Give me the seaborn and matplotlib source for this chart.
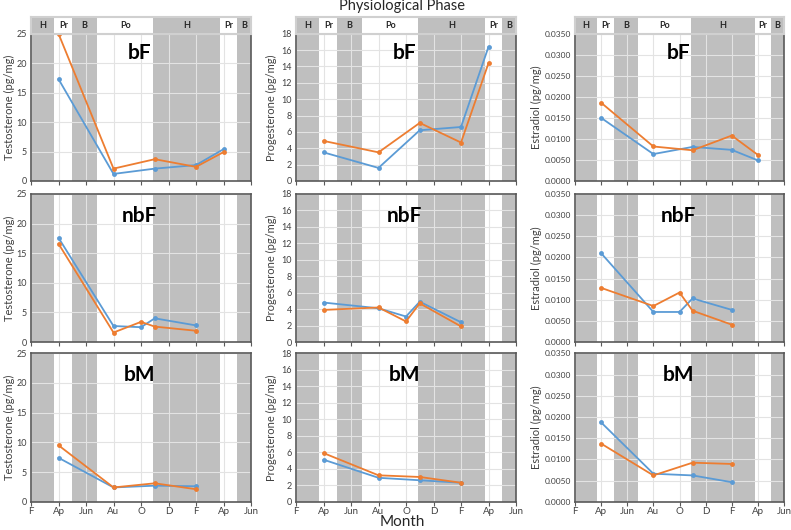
import matplotlib.pyplot as plt
import seaborn as sns
import numpy as np

# Meses (0 = febrero) y etiquetas del eje x
tick_pos = [0, 2, 4, 6, 8, 10, 12, 14, 16]
tick_labels = ['F', 'Ap', 'Jun', 'Au', 'O', 'D', 'F', 'Ap', 'Jun']

# Fases fisiológicas (límites en meses)
phase_labels = ['H', 'Pr', 'B', 'Po', 'H', 'Pr', 'B']
phase_edges = [0, 1.7, 3.0, 4.8, 8.9, 13.75, 15.0, 16]
phase_gray = [True, False, True, False, True, False, True]

# Meses de muestreo por grupo
months_bF = [2, 6, 9, 12, 14]
months_nbF = [2, 6, 8, 9, 12]
months_bM = [2, 6, 9, 12]

# Testosterona
testo_bF_blue = [17.3, 1.2, 2.1, 2.7, 5.4]
testo_bF_orange = [25.0, 2.1, 3.7, 2.4, 4.9]
testo_nbF_blue = [17.6, 2.7, 2.5, 4.0, 2.8]
testo_nbF_orange = [16.6, 1.6, 3.4, 2.6, 1.9]
testo_bM_blue = [7.4, 2.4, 2.7, 2.6]
testo_bM_orange = [9.5, 2.4, 3.1, 2.1]

# Progesterona
prog_bF_blue = [3.5, 1.6, 6.2, 6.6, 16.4]
prog_bF_orange = [4.9, 3.5, 7.1, 4.7, 14.4]
prog_nbF_blue = [4.8, 4.1, 3.1, 4.9, 2.4]
prog_nbF_orange = [3.9, 4.2, 2.5, 4.7, 1.9]
prog_bM_blue = [5.1, 2.9, 2.6, 2.3]
prog_bM_orange = [5.9, 3.2, 3.0, 2.3]

# Estradiol
estr_bF_blue = [0.0150, 0.0064, 0.0081, 0.0074, 0.0049]
estr_bF_orange = [0.0186, 0.0082, 0.0073, 0.0108, 0.0062]
estr_nbF_blue = [0.0210, 0.0071, 0.0071, 0.0103, 0.0076]
estr_nbF_orange = [0.0128, 0.0085, 0.0117, 0.0074, 0.0041]
estr_bM_blue = [0.0187, 0.0066, 0.0062, 0.0046]
estr_bM_orange = [0.0137, 0.0062, 0.0092, 0.0089]

blue = '#5B9BD5'
orange = '#ED7D31'
shade = '#BFBFBF'
txt = '#404040'

sns.set_theme(style="white")
plt.rcParams['font.family'] = ['Lato', 'DejaVu Sans']

fig = plt.figure(figsize=(7.91, 5.30), dpi=100)

W, H = 791, 530
col_x = [(31, 220), (296, 220), (575, 209)]
row_y = [(33.7, 181), (194, 342), (353.3, 501.7)]

groups = ['bF', 'nbF', 'bM']
months = [months_bF, months_nbF, months_bM]
data = [
    [(testo_bF_blue, testo_bF_orange), (prog_bF_blue, prog_bF_orange), (estr_bF_blue, estr_bF_orange)],
    [(testo_nbF_blue, testo_nbF_orange), (prog_nbF_blue, prog_nbF_orange), (estr_nbF_blue, estr_nbF_orange)],
    [(testo_bM_blue, testo_bM_orange), (prog_bM_blue, prog_bM_orange), (estr_bM_blue, estr_bM_orange)],
]
ylabels = ['Testosterone (pg/mg)', 'Progesterone (pg/mg)', 'Estradiol (pg/mg)']
ylims = [(0, 25, 5), (0, 18, 2), (0, 0.035, 0.005)]
label_y = [0.87, 0.85, 0.855]
ylabel_x = [-0.072, -0.088, -0.158]
ytick_size = [6.5, 6.5, 6.0]


def shade_phases(ax):
    for i in range(len(phase_labels)):
        if phase_gray[i]:
            ax.axvspan(phase_edges[i], phase_edges[i + 1], color=shade, lw=0, zorder=0.2)


for r in range(3):
    for c in range(3):
        x0, w = col_x[c]
        y0, y1 = row_y[r]
        ax = fig.add_axes([x0 / W, 1 - y1 / H, w / W, (y1 - y0) / H])
        shade_phases(ax)
        b, o = data[r][c]
        sns.lineplot(x=months[r], y=b, color=blue, marker='o', markersize=3.5,
                     markeredgewidth=0, lw=1.3, ax=ax, zorder=3)
        sns.lineplot(x=months[r], y=o, color=orange, marker='o', markersize=3.5,
                     markeredgewidth=0, lw=1.3, ax=ax, zorder=3)
        lo, hi, step = ylims[c]
        ax.set_xlim(0, 16)
        ax.set_ylim(lo, hi)
        ax.set_xticks(tick_pos)
        ax.set_yticks(np.arange(lo, hi + step / 2, step))
        if c == 2:
            ax.set_yticklabels([f'{v:.4f}' for v in np.arange(lo, hi + step / 2, step)])
        if r == 2:
            ax.set_xticklabels(tick_labels)
        else:
            ax.set_xticklabels([])
        ax.set_axisbelow(True)
        ax.grid(True, color='#E3E3E3', lw=0.8)
        ax.tick_params(axis='x', direction='out', length=3, width=0.8, color='#595959',
                       labelsize=7, labelcolor=txt, pad=1, bottom=True)
        ax.tick_params(axis='y', length=0, labelsize=ytick_size[c], labelcolor=txt, pad=3)
        for s in ax.spines.values():
            s.set_color('#595959')
            s.set_linewidth(1.2)
        ax.set_ylabel(ylabels[c], fontsize=8, color=txt)
        ax.yaxis.set_label_coords(ylabel_x[c], 0.5)
        ax.set_xlabel('')
        ax.text(7.9, label_y[r], groups[r], transform=ax.get_xaxis_transform(),
                fontsize=15, fontweight='bold', color='black', ha='center', va='center')

        # Barra de fases sobre la fila superior
        if r == 0:
            hx = fig.add_axes([x0 / W, 1 - y0 / H, w / W, 16.5 / H])
            hx.set_xlim(0, 16)
            hx.set_ylim(0, 1)
            shade_phases(hx)
            for i, lab in enumerate(phase_labels):
                hx.text((phase_edges[i] + phase_edges[i + 1]) / 2, 0.48, lab, ha='center',
                        va='center', fontsize=6.5, fontweight='bold', color='#262626')
            hx.set_xticks([])
            hx.set_yticks([])
            for s in hx.spines.values():
                s.set_color('#D0D0D0')
                s.set_linewidth(1.5)

fig.text(402 / W, 1 - 6 / H, 'Physiological Phase', ha='center', va='center',
         fontsize=10.5, color='#262626')
fig.text(402 / W, 1 - 522 / H, 'Month', ha='center', va='center',
         fontsize=11, color='#262626')

plt.savefig('out.png', dpi=100)
